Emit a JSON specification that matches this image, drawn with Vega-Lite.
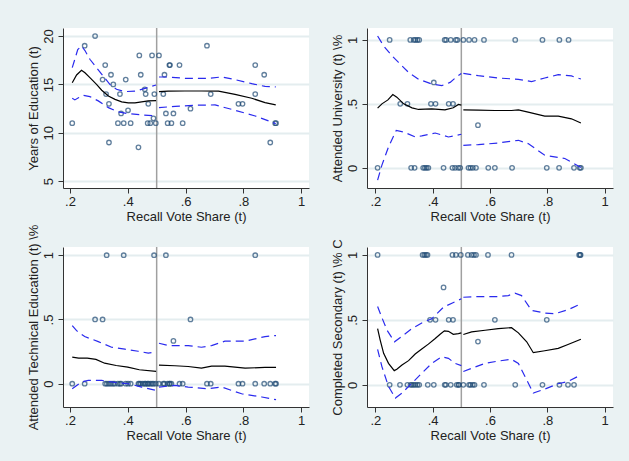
{
"$schema":"https://vega.github.io/schema/vega-lite/v6.json",
"background":"#EAF2F3",
"padding":{"left":27,"top":27,"right":17,"bottom":23},
"bounds":"flush",
"columns":2,
"spacing":{"row":59,"column":58},
"datasets":{
"pts":[
{"p":1,"x":0.208,"y":11},{"p":1,"x":0.251,"y":19},{"p":1,"x":0.287,"y":20},{"p":1,"x":0.313,"y":15.5},{"p":1,"x":0.322,"y":17},{"p":1,"x":0.325,"y":14},{"p":1,"x":0.342,"y":16},{"p":1,"x":0.335,"y":9},{"p":1,"x":0.335,"y":13},{"p":1,"x":0.35,"y":15},{"p":1,"x":0.366,"y":11},{"p":1,"x":0.373,"y":14},{"p":1,"x":0.377,"y":12},{"p":1,"x":0.386,"y":11},{"p":1,"x":0.393,"y":15.5},{"p":1,"x":0.401,"y":12.33},{"p":1,"x":0.41,"y":11},{"p":1,"x":0.44,"y":18},{"p":1,"x":0.445,"y":16},{"p":1,"x":0.437,"y":8.5},{"p":1,"x":0.459,"y":14.5},{"p":1,"x":0.462,"y":14},{"p":1,"x":0.469,"y":11},{"p":1,"x":0.471,"y":13},{"p":1,"x":0.478,"y":11},{"p":1,"x":0.484,"y":18},{"p":1,"x":0.489,"y":11.5},{"p":1,"x":0.492,"y":14},{"p":1,"x":0.497,"y":11},{"p":1,"x":0.508,"y":18},{"p":1,"x":0.523,"y":14},{"p":1,"x":0.527,"y":16},{"p":1,"x":0.532,"y":12},{"p":1,"x":0.538,"y":11},{"p":1,"x":0.544,"y":17},{"p":1,"x":0.546,"y":17},{"p":1,"x":0.551,"y":11},{"p":1,"x":0.558,"y":12},{"p":1,"x":0.579,"y":17},{"p":1,"x":0.59,"y":11},{"p":1,"x":0.617,"y":12.5},{"p":1,"x":0.674,"y":19},{"p":1,"x":0.687,"y":14},{"p":1,"x":0.783,"y":13},{"p":1,"x":0.797,"y":13},{"p":1,"x":0.841,"y":17},{"p":1,"x":0.841,"y":14},{"p":1,"x":0.872,"y":16},{"p":1,"x":0.893,"y":9},{"p":1,"x":0.91,"y":11},{"p":1,"x":0.913,"y":11},
{"p":2,"x":0.25,"y":1},{"p":2,"x":0.322,"y":1},{"p":2,"x":0.334,"y":1},{"p":2,"x":0.34,"y":1},{"p":2,"x":0.347,"y":1},{"p":2,"x":0.353,"y":1},{"p":2,"x":0.442,"y":1},{"p":2,"x":0.447,"y":1},{"p":2,"x":0.463,"y":1},{"p":2,"x":0.481,"y":1},{"p":2,"x":0.486,"y":1},{"p":2,"x":0.507,"y":1},{"p":2,"x":0.527,"y":1},{"p":2,"x":0.546,"y":1},{"p":2,"x":0.579,"y":1},{"p":2,"x":0.688,"y":1},{"p":2,"x":0.783,"y":1},{"p":2,"x":0.842,"y":1},{"p":2,"x":0.874,"y":1},
{"p":2,"x":0.404,"y":0.667},{"p":2,"x":0.287,"y":0.5},{"p":2,"x":0.312,"y":0.5},{"p":2,"x":0.394,"y":0.5},{"p":2,"x":0.41,"y":0.5},{"p":2,"x":0.456,"y":0.5},{"p":2,"x":0.471,"y":0.5},{"p":2,"x":0.558,"y":0.333},
{"p":2,"x":0.208,"y":0},{"p":2,"x":0.325,"y":0},{"p":2,"x":0.337,"y":0},{"p":2,"x":0.367,"y":0},{"p":2,"x":0.373,"y":0},{"p":2,"x":0.379,"y":0},{"p":2,"x":0.385,"y":0},{"p":2,"x":0.438,"y":0},{"p":2,"x":0.469,"y":0},{"p":2,"x":0.478,"y":0},{"p":2,"x":0.489,"y":0},{"p":2,"x":0.496,"y":0},{"p":2,"x":0.525,"y":0},{"p":2,"x":0.532,"y":0},{"p":2,"x":0.54,"y":0},{"p":2,"x":0.551,"y":0},{"p":2,"x":0.594,"y":0},{"p":2,"x":0.617,"y":0},{"p":2,"x":0.677,"y":0},{"p":2,"x":0.798,"y":0},{"p":2,"x":0.841,"y":0},{"p":2,"x":0.893,"y":0},{"p":2,"x":0.913,"y":0},{"p":2,"x":0.917,"y":0},
{"p":3,"x":0.327,"y":1},{"p":3,"x":0.386,"y":1},{"p":3,"x":0.491,"y":1},{"p":3,"x":0.532,"y":1},{"p":3,"x":0.841,"y":1},{"p":3,"x":0.287,"y":0.5},{"p":3,"x":0.313,"y":0.5},{"p":3,"x":0.617,"y":0.5},{"p":3,"x":0.558,"y":0.333},
{"p":3,"x":0.208,"y":0},{"p":3,"x":0.251,"y":0},{"p":3,"x":0.322,"y":0},{"p":3,"x":0.328,"y":0},{"p":3,"x":0.335,"y":0},{"p":3,"x":0.342,"y":0},{"p":3,"x":0.349,"y":0},{"p":3,"x":0.355,"y":0},{"p":3,"x":0.366,"y":0},{"p":3,"x":0.373,"y":0},{"p":3,"x":0.377,"y":0},{"p":3,"x":0.393,"y":0},{"p":3,"x":0.401,"y":0},{"p":3,"x":0.41,"y":0},{"p":3,"x":0.437,"y":0},{"p":3,"x":0.44,"y":0},{"p":3,"x":0.445,"y":0},{"p":3,"x":0.452,"y":0},{"p":3,"x":0.459,"y":0},{"p":3,"x":0.462,"y":0},{"p":3,"x":0.469,"y":0},{"p":3,"x":0.471,"y":0},{"p":3,"x":0.478,"y":0},{"p":3,"x":0.484,"y":0},{"p":3,"x":0.489,"y":0},{"p":3,"x":0.497,"y":0},{"p":3,"x":0.508,"y":0},{"p":3,"x":0.523,"y":0},{"p":3,"x":0.527,"y":0},{"p":3,"x":0.538,"y":0},{"p":3,"x":0.544,"y":0},{"p":3,"x":0.546,"y":0},{"p":3,"x":0.551,"y":0},{"p":3,"x":0.579,"y":0},{"p":3,"x":0.59,"y":0},{"p":3,"x":0.674,"y":0},{"p":3,"x":0.687,"y":0},{"p":3,"x":0.783,"y":0},{"p":3,"x":0.797,"y":0},{"p":3,"x":0.841,"y":0},{"p":3,"x":0.872,"y":0},{"p":3,"x":0.893,"y":0},{"p":3,"x":0.91,"y":0},{"p":3,"x":0.913,"y":0},
{"p":4,"x":0.208,"y":1},{"p":4,"x":0.365,"y":1},{"p":4,"x":0.371,"y":1},{"p":4,"x":0.377,"y":1},{"p":4,"x":0.382,"y":1},{"p":4,"x":0.469,"y":1},{"p":4,"x":0.481,"y":1},{"p":4,"x":0.498,"y":1},{"p":4,"x":0.523,"y":1},{"p":4,"x":0.536,"y":1},{"p":4,"x":0.544,"y":1},{"p":4,"x":0.551,"y":1},{"p":4,"x":0.593,"y":1},{"p":4,"x":0.675,"y":1},{"p":4,"x":0.911,"y":1},{"p":4,"x":0.914,"y":1},{"p":4,"x":0.916,"y":1},
{"p":4,"x":0.438,"y":0.75},{"p":4,"x":0.391,"y":0.5},{"p":4,"x":0.41,"y":0.5},{"p":4,"x":0.456,"y":0.5},{"p":4,"x":0.471,"y":0.5},{"p":4,"x":0.617,"y":0.5},{"p":4,"x":0.798,"y":0.5},{"p":4,"x":0.558,"y":0.333},
{"p":4,"x":0.25,"y":0},{"p":4,"x":0.286,"y":0},{"p":4,"x":0.312,"y":0},{"p":4,"x":0.323,"y":0},{"p":4,"x":0.328,"y":0},{"p":4,"x":0.334,"y":0},{"p":4,"x":0.34,"y":0},{"p":4,"x":0.347,"y":0},{"p":4,"x":0.353,"y":0},{"p":4,"x":0.383,"y":0},{"p":4,"x":0.404,"y":0},{"p":4,"x":0.442,"y":0},{"p":4,"x":0.446,"y":0},{"p":4,"x":0.463,"y":0},{"p":4,"x":0.484,"y":0},{"p":4,"x":0.49,"y":0},{"p":4,"x":0.492,"y":0},{"p":4,"x":0.507,"y":0},{"p":4,"x":0.527,"y":0},{"p":4,"x":0.532,"y":0},{"p":4,"x":0.54,"y":0},{"p":4,"x":0.546,"y":0},{"p":4,"x":0.579,"y":0},{"p":4,"x":0.688,"y":0},{"p":4,"x":0.783,"y":0},{"p":4,"x":0.842,"y":0},{"p":4,"x":0.872,"y":0},{"p":4,"x":0.893,"y":0}
],
"fit":[
{"p":1,"s":"L","x":0.208,"y":15.18},{"p":1,"s":"L","x":0.223,"y":15.98},{"p":1,"s":"L","x":0.24,"y":16.46},{"p":1,"s":"L","x":0.252,"y":16.2},{"p":1,"s":"L","x":0.269,"y":15.7},{"p":1,"s":"L","x":0.292,"y":15.0},{"p":1,"s":"L","x":0.31,"y":14.4},{"p":1,"s":"L","x":0.333,"y":13.8},{"p":1,"s":"L","x":0.356,"y":13.46},{"p":1,"s":"L","x":0.379,"y":13.2},{"p":1,"s":"L","x":0.402,"y":13.1},{"p":1,"s":"L","x":0.425,"y":13.1},{"p":1,"s":"L","x":0.448,"y":13.2},{"p":1,"s":"L","x":0.471,"y":13.3},{"p":1,"s":"L","x":0.498,"y":13.33},
{"p":1,"s":"R","x":0.508,"y":14.26},{"p":1,"s":"R","x":0.54,"y":14.3},{"p":1,"s":"R","x":0.598,"y":14.32},{"p":1,"s":"R","x":0.656,"y":14.32},{"p":1,"s":"R","x":0.714,"y":14.3},{"p":1,"s":"R","x":0.771,"y":13.98},{"p":1,"s":"R","x":0.829,"y":13.57},{"p":1,"s":"R","x":0.875,"y":13.12},{"p":1,"s":"R","x":0.912,"y":12.88},
{"p":2,"s":"L","x":0.208,"y":0.466},{"p":2,"s":"L","x":0.223,"y":0.5},{"p":2,"s":"L","x":0.244,"y":0.531},{"p":2,"s":"L","x":0.261,"y":0.573},{"p":2,"s":"L","x":0.275,"y":0.552},{"p":2,"s":"L","x":0.299,"y":0.5},{"p":2,"s":"L","x":0.328,"y":0.469},{"p":2,"s":"L","x":0.351,"y":0.456},{"p":2,"s":"L","x":0.397,"y":0.461},{"p":2,"s":"L","x":0.443,"y":0.453},{"p":2,"s":"L","x":0.472,"y":0.469},{"p":2,"s":"L","x":0.49,"y":0.495},{"p":2,"s":"L","x":0.5,"y":0.49},
{"p":2,"s":"R","x":0.507,"y":0.453},{"p":2,"s":"R","x":0.559,"y":0.451},{"p":2,"s":"R","x":0.617,"y":0.448},{"p":2,"s":"R","x":0.675,"y":0.448},{"p":2,"s":"R","x":0.699,"y":0.453},{"p":2,"s":"R","x":0.733,"y":0.435},{"p":2,"s":"R","x":0.791,"y":0.404},{"p":2,"s":"R","x":0.838,"y":0.404},{"p":2,"s":"R","x":0.884,"y":0.383},{"p":2,"s":"R","x":0.917,"y":0.35},
{"p":3,"s":"L","x":0.208,"y":0.207},{"p":3,"s":"L","x":0.23,"y":0.2},{"p":3,"s":"L","x":0.26,"y":0.199},{"p":3,"s":"L","x":0.29,"y":0.189},{"p":3,"s":"L","x":0.32,"y":0.16},{"p":3,"s":"L","x":0.36,"y":0.142},{"p":3,"s":"L","x":0.4,"y":0.129},{"p":3,"s":"L","x":0.44,"y":0.109},{"p":3,"s":"L","x":0.498,"y":0.096},
{"p":3,"s":"R","x":0.508,"y":0.145},{"p":3,"s":"R","x":0.563,"y":0.14},{"p":3,"s":"R","x":0.609,"y":0.134},{"p":3,"s":"R","x":0.655,"y":0.121},{"p":3,"s":"R","x":0.69,"y":0.137},{"p":3,"s":"R","x":0.736,"y":0.137},{"p":3,"s":"R","x":0.806,"y":0.121},{"p":3,"s":"R","x":0.875,"y":0.127},{"p":3,"s":"R","x":0.913,"y":0.127},
{"p":4,"s":"L","x":0.208,"y":0.433},{"p":4,"s":"L","x":0.217,"y":0.344},{"p":4,"s":"L","x":0.229,"y":0.242},{"p":4,"s":"L","x":0.246,"y":0.165},{"p":4,"s":"L","x":0.266,"y":0.109},{"p":4,"s":"L","x":0.275,"y":0.12},{"p":4,"s":"L","x":0.293,"y":0.153},{"p":4,"s":"L","x":0.316,"y":0.186},{"p":4,"s":"L","x":0.339,"y":0.237},{"p":4,"s":"L","x":0.362,"y":0.275},{"p":4,"s":"L","x":0.385,"y":0.313},{"p":4,"s":"L","x":0.409,"y":0.356},{"p":4,"s":"L","x":0.426,"y":0.389},{"p":4,"s":"L","x":0.441,"y":0.415},{"p":4,"s":"L","x":0.455,"y":0.412},{"p":4,"s":"L","x":0.472,"y":0.389},{"p":4,"s":"L","x":0.49,"y":0.394},{"p":4,"s":"L","x":0.5,"y":0.4},
{"p":4,"s":"R","x":0.507,"y":0.387},{"p":4,"s":"R","x":0.536,"y":0.407},{"p":4,"s":"R","x":0.583,"y":0.42},{"p":4,"s":"R","x":0.629,"y":0.433},{"p":4,"s":"R","x":0.675,"y":0.44},{"p":4,"s":"R","x":0.699,"y":0.4},{"p":4,"s":"R","x":0.728,"y":0.331},{"p":4,"s":"R","x":0.751,"y":0.247},{"p":4,"s":"R","x":0.791,"y":0.262},{"p":4,"s":"R","x":0.838,"y":0.28},{"p":4,"s":"R","x":0.872,"y":0.31},{"p":4,"s":"R","x":0.917,"y":0.351}
],
"ci":[
{"p":1,"b":"uL","x":0.208,"y":16.73},{"p":1,"b":"uL","x":0.217,"y":17.6},{"p":1,"b":"uL","x":0.227,"y":18.6},{"p":1,"b":"uL","x":0.24,"y":18.97},{"p":1,"b":"uL","x":0.252,"y":18.5},{"p":1,"b":"uL","x":0.269,"y":17.6},{"p":1,"b":"uL","x":0.292,"y":16.73},{"p":1,"b":"uL","x":0.315,"y":15.87},{"p":1,"b":"uL","x":0.338,"y":15.0},{"p":1,"b":"uL","x":0.361,"y":14.5},{"p":1,"b":"uL","x":0.39,"y":14.26},{"p":1,"b":"uL","x":0.425,"y":14.3},{"p":1,"b":"uL","x":0.46,"y":14.6},{"p":1,"b":"uL","x":0.498,"y":14.94},
{"p":1,"b":"uR","x":0.508,"y":15.77},{"p":1,"b":"uR","x":0.54,"y":15.77},{"p":1,"b":"uR","x":0.598,"y":15.63},{"p":1,"b":"uR","x":0.679,"y":15.63},{"p":1,"b":"uR","x":0.725,"y":15.77},{"p":1,"b":"uR","x":0.771,"y":15.5},{"p":1,"b":"uR","x":0.829,"y":15.08},{"p":1,"b":"uR","x":0.875,"y":14.8},{"p":1,"b":"uR","x":0.912,"y":14.74},
{"p":1,"b":"lL","x":0.208,"y":13.57},{"p":1,"b":"lL","x":0.217,"y":13.4},{"p":1,"b":"lL","x":0.231,"y":13.64},{"p":1,"b":"lL","x":0.246,"y":13.88},{"p":1,"b":"lL","x":0.269,"y":13.74},{"p":1,"b":"lL","x":0.298,"y":13.3},{"p":1,"b":"lL","x":0.333,"y":12.6},{"p":1,"b":"lL","x":0.367,"y":12.16},{"p":1,"b":"lL","x":0.402,"y":11.98},{"p":1,"b":"lL","x":0.448,"y":11.85},{"p":1,"b":"lL","x":0.498,"y":11.74},
{"p":1,"b":"lR","x":0.508,"y":12.6},{"p":1,"b":"lR","x":0.564,"y":12.74},{"p":1,"b":"lR","x":0.633,"y":12.85},{"p":1,"b":"lR","x":0.702,"y":12.88},{"p":1,"b":"lR","x":0.771,"y":12.33},{"p":1,"b":"lR","x":0.841,"y":11.74},{"p":1,"b":"lR","x":0.887,"y":11.23},{"p":1,"b":"lR","x":0.912,"y":10.95},
{"p":2,"b":"uL","x":0.208,"y":1.03},{"p":2,"b":"uL","x":0.229,"y":0.953},{"p":2,"b":"uL","x":0.258,"y":0.876},{"p":2,"b":"uL","x":0.281,"y":0.824},{"p":2,"b":"uL","x":0.316,"y":0.746},{"p":2,"b":"uL","x":0.351,"y":0.692},{"p":2,"b":"uL","x":0.397,"y":0.655},{"p":2,"b":"uL","x":0.432,"y":0.642},{"p":2,"b":"uL","x":0.461,"y":0.668},{"p":2,"b":"uL","x":0.484,"y":0.712},{"p":2,"b":"uL","x":0.5,"y":0.738},
{"p":2,"b":"uR","x":0.507,"y":0.738},{"p":2,"b":"uR","x":0.559,"y":0.72},{"p":2,"b":"uR","x":0.629,"y":0.702},{"p":2,"b":"uR","x":0.699,"y":0.692},{"p":2,"b":"uR","x":0.745,"y":0.674},{"p":2,"b":"uR","x":0.791,"y":0.702},{"p":2,"b":"uR","x":0.838,"y":0.728},{"p":2,"b":"uR","x":0.884,"y":0.718},{"p":2,"b":"uR","x":0.917,"y":0.694},
{"p":2,"b":"lL","x":0.208,"y":-0.096},{"p":2,"b":"lL","x":0.223,"y":0.021},{"p":2,"b":"lL","x":0.246,"y":0.163},{"p":2,"b":"lL","x":0.273,"y":0.293},{"p":2,"b":"lL","x":0.299,"y":0.28},{"p":2,"b":"lL","x":0.339,"y":0.241},{"p":2,"b":"lL","x":0.362,"y":0.249},{"p":2,"b":"lL","x":0.409,"y":0.272},{"p":2,"b":"lL","x":0.455,"y":0.241},{"p":2,"b":"lL","x":0.5,"y":0.262},
{"p":2,"b":"lR","x":0.507,"y":0.176},{"p":2,"b":"lR","x":0.559,"y":0.181},{"p":2,"b":"lR","x":0.629,"y":0.194},{"p":2,"b":"lR","x":0.699,"y":0.215},{"p":2,"b":"lR","x":0.733,"y":0.189},{"p":2,"b":"lR","x":0.791,"y":0.098},{"p":2,"b":"lR","x":0.861,"y":0.073},{"p":2,"b":"lR","x":0.917,"y":0.003},
{"p":3,"b":"uL","x":0.208,"y":0.452},{"p":3,"b":"uL","x":0.223,"y":0.413},{"p":3,"b":"uL","x":0.251,"y":0.367},{"p":3,"b":"uL","x":0.298,"y":0.328},{"p":3,"b":"uL","x":0.344,"y":0.284},{"p":3,"b":"uL","x":0.39,"y":0.269},{"p":3,"b":"uL","x":0.436,"y":0.253},{"p":3,"b":"uL","x":0.471,"y":0.238},{"p":3,"b":"uL","x":0.498,"y":0.248},
{"p":3,"b":"uR","x":0.508,"y":0.315},{"p":3,"b":"uR","x":0.54,"y":0.297},{"p":3,"b":"uR","x":0.609,"y":0.297},{"p":3,"b":"uR","x":0.655,"y":0.284},{"p":3,"b":"uR","x":0.69,"y":0.297},{"p":3,"b":"uR","x":0.736,"y":0.331},{"p":3,"b":"uR","x":0.806,"y":0.331},{"p":3,"b":"uR","x":0.875,"y":0.367},{"p":3,"b":"uR","x":0.913,"y":0.375},
{"p":3,"b":"lL","x":0.208,"y":-0.039},{"p":3,"b":"lL","x":0.24,"y":0.013},{"p":3,"b":"lL","x":0.263,"y":0.026},{"p":3,"b":"lL","x":0.31,"y":0.026},{"p":3,"b":"lL","x":0.356,"y":0.01},{"p":3,"b":"lL","x":0.402,"y":0},{"p":3,"b":"lL","x":0.448,"y":-0.026},{"p":3,"b":"lL","x":0.498,"y":-0.052},
{"p":3,"b":"lR","x":0.508,"y":-0.026},{"p":3,"b":"lR","x":0.563,"y":-0.013},{"p":3,"b":"lR","x":0.609,"y":-0.026},{"p":3,"b":"lR","x":0.679,"y":-0.039},{"p":3,"b":"lR","x":0.725,"y":-0.026},{"p":3,"b":"lR","x":0.794,"y":-0.078},{"p":3,"b":"lR","x":0.864,"y":-0.103},{"p":3,"b":"lR","x":0.913,"y":-0.124},
{"p":4,"b":"uL","x":0.208,"y":0.603},{"p":4,"b":"uL","x":0.223,"y":0.517},{"p":4,"b":"uL","x":0.241,"y":0.42},{"p":4,"b":"uL","x":0.267,"y":0.331},{"p":4,"b":"uL","x":0.293,"y":0.374},{"p":4,"b":"uL","x":0.328,"y":0.433},{"p":4,"b":"uL","x":0.362,"y":0.476},{"p":4,"b":"uL","x":0.397,"y":0.509},{"p":4,"b":"uL","x":0.438,"y":0.598},{"p":4,"b":"uL","x":0.467,"y":0.628},{"p":4,"b":"uL","x":0.5,"y":0.662},
{"p":4,"b":"uR","x":0.507,"y":0.674},{"p":4,"b":"uR","x":0.559,"y":0.679},{"p":4,"b":"uR","x":0.629,"y":0.679},{"p":4,"b":"uR","x":0.664,"y":0.687},{"p":4,"b":"uR","x":0.687,"y":0.705},{"p":4,"b":"uR","x":0.71,"y":0.687},{"p":4,"b":"uR","x":0.745,"y":0.573},{"p":4,"b":"uR","x":0.791,"y":0.552},{"p":4,"b":"uR","x":0.826,"y":0.547},{"p":4,"b":"uR","x":0.872,"y":0.578},{"p":4,"b":"uR","x":0.917,"y":0.623},
{"p":4,"b":"lL","x":0.208,"y":0.272},{"p":4,"b":"lL","x":0.223,"y":0.14},{"p":4,"b":"lL","x":0.246,"y":-0.013},{"p":4,"b":"lL","x":0.27,"y":-0.102},{"p":4,"b":"lL","x":0.293,"y":-0.064},{"p":4,"b":"lL","x":0.328,"y":0.013},{"p":4,"b":"lL","x":0.362,"y":0.089},{"p":4,"b":"lL","x":0.397,"y":0.165},{"p":4,"b":"lL","x":0.432,"y":0.216},{"p":4,"b":"lL","x":0.455,"y":0.204},{"p":4,"b":"lL","x":0.478,"y":0.165},{"p":4,"b":"lL","x":0.5,"y":0.148},
{"p":4,"b":"lR","x":0.507,"y":0.102},{"p":4,"b":"lR","x":0.536,"y":0.127},{"p":4,"b":"lR","x":0.583,"y":0.165},{"p":4,"b":"lR","x":0.629,"y":0.183},{"p":4,"b":"lR","x":0.675,"y":0.196},{"p":4,"b":"lR","x":0.699,"y":0.165},{"p":4,"b":"lR","x":0.722,"y":0.064},{"p":4,"b":"lR","x":0.751,"y":-0.064},{"p":4,"b":"lR","x":0.791,"y":-0.033},{"p":4,"b":"lR","x":0.838,"y":0.008},{"p":4,"b":"lR","x":0.872,"y":0.025},{"p":4,"b":"lR","x":0.917,"y":0.076}
]
},
"concat":[
{"width":246,"height":160,"layer":[
{"data":{"values":[{"x":0.5}]},"mark":{"type":"rule","color":"#a0a0a0","strokeWidth":1.5},"encoding":{"x":{"field":"x","type":"quantitative","scale":{"domain":[0.176,1.027],"nice":false,"zero":false},"axis":{"values":[0.2,0.4,0.6,0.8,1],"title":"Recall Vote Share (t)","labelExpr":"datum.value==1?'1':'.'+format(datum.value*10,'d')"}}}},
{"data":{"name":"pts"},"transform":[{"filter":"datum.p==1"}],"mark":{"type":"point","filled":false,"stroke":"#1f4a74","strokeWidth":1.3,"size":20},"encoding":{"x":{"field":"x","type":"quantitative","scale":{"domain":[0.176,1.027],"nice":false,"zero":false}},"y":{"field":"y","type":"quantitative","scale":{"domain":[4.3,20.83],"nice":false,"zero":false},"axis":{"values":[5,10,15,20],"title":"Years of Education (t)","labelAngle":-90,"labelAlign":"center","labelBaseline":"bottom"}}}},
{"data":{"name":"ci"},"transform":[{"filter":"datum.p==1"}],"mark":{"type":"line","color":"#2a2aee","strokeWidth":1.2,"strokeDash":[8,5]},"encoding":{"x":{"field":"x","type":"quantitative","scale":{"domain":[0.176,1.027],"nice":false,"zero":false}},"y":{"field":"y","type":"quantitative","scale":{"domain":[4.3,20.83],"nice":false,"zero":false}},"detail":{"field":"b"}}},
{"data":{"name":"fit"},"transform":[{"filter":"datum.p==1"}],"mark":{"type":"line","color":"#000000","strokeWidth":1.2},"encoding":{"x":{"field":"x","type":"quantitative","scale":{"domain":[0.176,1.027],"nice":false,"zero":false}},"y":{"field":"y","type":"quantitative","scale":{"domain":[4.3,20.83],"nice":false,"zero":false}},"detail":{"field":"s"}}}
]},
{"width":246,"height":160,"layer":[
{"data":{"values":[{"x":0.5}]},"mark":{"type":"rule","color":"#a0a0a0","strokeWidth":1.5},"encoding":{"x":{"field":"x","type":"quantitative","scale":{"domain":[0.171,1.029],"nice":false,"zero":false},"axis":{"values":[0.2,0.4,0.6,0.8,1],"title":"Recall Vote Share (t)","labelExpr":"datum.value==1?'1':'.'+format(datum.value*10,'d')"}}}},
{"data":{"name":"pts"},"transform":[{"filter":"datum.p==2"}],"mark":{"type":"point","filled":false,"stroke":"#1f4a74","strokeWidth":1.3,"size":20},"encoding":{"x":{"field":"x","type":"quantitative","scale":{"domain":[0.171,1.029],"nice":false,"zero":false}},"y":{"field":"y","type":"quantitative","scale":{"domain":[-0.158,1.093],"nice":false,"zero":false},"axis":{"values":[0,0.5,1],"title":"Attended University (t) \\%","labelExpr":"datum.value==1?'1':datum.value==0?'0':'.5'","labelAngle":-90,"labelAlign":"center","labelBaseline":"bottom"}}}},
{"data":{"name":"ci"},"transform":[{"filter":"datum.p==2"}],"mark":{"type":"line","color":"#2a2aee","strokeWidth":1.2,"strokeDash":[8,5]},"encoding":{"x":{"field":"x","type":"quantitative","scale":{"domain":[0.171,1.029],"nice":false,"zero":false}},"y":{"field":"y","type":"quantitative","scale":{"domain":[-0.158,1.093],"nice":false,"zero":false}},"detail":{"field":"b"}}},
{"data":{"name":"fit"},"transform":[{"filter":"datum.p==2"}],"mark":{"type":"line","color":"#000000","strokeWidth":1.2},"encoding":{"x":{"field":"x","type":"quantitative","scale":{"domain":[0.171,1.029],"nice":false,"zero":false}},"y":{"field":"y","type":"quantitative","scale":{"domain":[-0.158,1.093],"nice":false,"zero":false}},"detail":{"field":"s"}}}
]},
{"width":246,"height":160,"layer":[
{"data":{"values":[{"x":0.5}]},"mark":{"type":"rule","color":"#a0a0a0","strokeWidth":1.5},"encoding":{"x":{"field":"x","type":"quantitative","scale":{"domain":[0.176,1.027],"nice":false,"zero":false},"axis":{"values":[0.2,0.4,0.6,0.8,1],"title":"Recall Vote Share (t)","labelExpr":"datum.value==1?'1':'.'+format(datum.value*10,'d')"}}}},
{"data":{"name":"pts"},"transform":[{"filter":"datum.p==3"}],"mark":{"type":"point","filled":false,"stroke":"#1f4a74","strokeWidth":1.3,"size":20},"encoding":{"x":{"field":"x","type":"quantitative","scale":{"domain":[0.176,1.027],"nice":false,"zero":false}},"y":{"field":"y","type":"quantitative","scale":{"domain":[-0.181,1.064],"nice":false,"zero":false},"axis":{"values":[0,0.5,1],"title":"Attended Technical Education (t) \\%","labelExpr":"datum.value==1?'1':datum.value==0?'0':'.5'","labelAngle":-90,"labelAlign":"center","labelBaseline":"bottom"}}}},
{"data":{"name":"ci"},"transform":[{"filter":"datum.p==3"}],"mark":{"type":"line","color":"#2a2aee","strokeWidth":1.2,"strokeDash":[8,5]},"encoding":{"x":{"field":"x","type":"quantitative","scale":{"domain":[0.176,1.027],"nice":false,"zero":false}},"y":{"field":"y","type":"quantitative","scale":{"domain":[-0.181,1.064],"nice":false,"zero":false}},"detail":{"field":"b"}}},
{"data":{"name":"fit"},"transform":[{"filter":"datum.p==3"}],"mark":{"type":"line","color":"#000000","strokeWidth":1.2},"encoding":{"x":{"field":"x","type":"quantitative","scale":{"domain":[0.176,1.027],"nice":false,"zero":false}},"y":{"field":"y","type":"quantitative","scale":{"domain":[-0.181,1.064],"nice":false,"zero":false}},"detail":{"field":"s"}}}
]},
{"width":246,"height":160,"layer":[
{"data":{"values":[{"x":0.5}]},"mark":{"type":"rule","color":"#a0a0a0","strokeWidth":1.5},"encoding":{"x":{"field":"x","type":"quantitative","scale":{"domain":[0.171,1.029],"nice":false,"zero":false},"axis":{"values":[0.2,0.4,0.6,0.8,1],"title":"Recall Vote Share (t)","labelExpr":"datum.value==1?'1':'.'+format(datum.value*10,'d')"}}}},
{"data":{"name":"pts"},"transform":[{"filter":"datum.p==4"}],"mark":{"type":"point","filled":false,"stroke":"#1f4a74","strokeWidth":1.3,"size":20},"encoding":{"x":{"field":"x","type":"quantitative","scale":{"domain":[0.171,1.029],"nice":false,"zero":false}},"y":{"field":"y","type":"quantitative","scale":{"domain":[-0.171,1.061],"nice":false,"zero":false},"axis":{"values":[0,0.5,1],"title":"Completed Secondary (t) \\% C","labelExpr":"datum.value==1?'1':datum.value==0?'0':'.5'","labelAngle":-90,"labelAlign":"center","labelBaseline":"bottom"}}}},
{"data":{"name":"ci"},"transform":[{"filter":"datum.p==4"}],"mark":{"type":"line","color":"#2a2aee","strokeWidth":1.2,"strokeDash":[8,5]},"encoding":{"x":{"field":"x","type":"quantitative","scale":{"domain":[0.171,1.029],"nice":false,"zero":false}},"y":{"field":"y","type":"quantitative","scale":{"domain":[-0.171,1.061],"nice":false,"zero":false}},"detail":{"field":"b"}}},
{"data":{"name":"fit"},"transform":[{"filter":"datum.p==4"}],"mark":{"type":"line","color":"#000000","strokeWidth":1.2},"encoding":{"x":{"field":"x","type":"quantitative","scale":{"domain":[0.171,1.029],"nice":false,"zero":false}},"y":{"field":"y","type":"quantitative","scale":{"domain":[-0.171,1.061],"nice":false,"zero":false}},"detail":{"field":"s"}}}
]}
],
"config":{
"view":{"fill":"white","stroke":null},
"font":"Liberation Sans",
"axis":{"labelFont":"Liberation Sans","titleFont":"Liberation Sans","labelFontSize":13,"titleFontSize":13,"titleFontWeight":"normal","labelColor":"#222222","titleColor":"#222222","domainColor":"#333333","tickColor":"#333333","tickSize":5,"domainWidth":1,"tickWidth":1},
"axisX":{"grid":false,"labelPadding":2,"titlePadding":2,"labelFlush":false},
"axisY":{"grid":true,"gridColor":"#E4EDEF","gridWidth":2,"labelPadding":3,"titlePadding":2,"labelFlush":false,"labelAngle":-90}
}
}
